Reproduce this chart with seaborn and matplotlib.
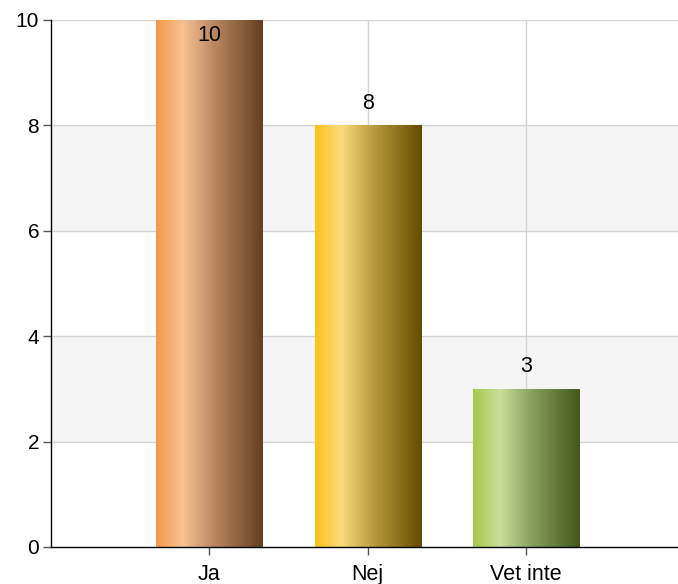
import matplotlib
matplotlib.use("Agg")
import matplotlib.pyplot as plt
import numpy as np
import pandas as pd
import seaborn as sns
from matplotlib.colors import LinearSegmentedColormap

categories = ["Ja", "Nej", "Vet inte"]
values = [10, 8, 3]
# gradient stops per bar: left, highlight, middle, right
bar_stops = [
    ["#f5984a", "#f8c292", "#b98660", "#653f1f"],
    ["#fcc21b", "#fbda7e", "#b99a3c", "#644c00"],
    ["#a6c84a", "#cadf99", "#88a05e", "#42581c"],
]

sns.set_style("white")
plt.rcParams['font.family'] = ['Liberation Sans', 'DejaVu Sans']
plt.rcParams['text.color'] = 'black'
plt.rcParams['xtick.color'] = 'black'
plt.rcParams['ytick.color'] = 'black'

df = pd.DataFrame({"svar": categories, "antal": values})

fig = plt.figure(figsize=(6.78, 5.84), dpi=100)
ax = fig.add_axes([0.0752, 0.0634, 0.9248, 0.9024])

sns.barplot(data=df, x="svar", y="antal", ax=ax, width=0.67, zorder=2)

grad = np.linspace(0, 1, 256).reshape(1, -1)
for patch, stops in zip(ax.containers[0], bar_stops):
    cmap = LinearSegmentedColormap.from_list(
        "g", list(zip([0, 0.25, 0.55, 1.0], stops)))
    x0, y0 = patch.get_x(), patch.get_y()
    w, h = patch.get_width(), patch.get_height()
    patch.set_facecolor("none")
    patch.set_edgecolor("none")
    im = ax.imshow(grad, cmap=cmap, aspect="auto", extent=[x0, x0 + w, y0, y0 + h],
                   zorder=2, interpolation="bilinear")
    im.set_clip_path(patch)

# alternating bands and grid
for lo in (2, 6):
    ax.axhspan(lo, lo + 2, color="#f5f5f5", zorder=0, lw=0)
for y in range(2, 11, 2):
    ax.axhline(y, color="#d3d3d3", lw=1, zorder=1)
for x in range(len(categories)):
    ax.axvline(x, color="#d3d3d3", lw=1, zorder=1)

for i, v in enumerate(values):
    if v >= 10:
        ax.text(i, v - 0.1, str(v), ha="center", va="top", fontsize=15.5, zorder=5)
    else:
        ax.text(i, v + 0.22, str(v), ha="center", va="bottom", fontsize=15.5, zorder=5)

ax.set_xlim(-1.0, 2.96)
ax.set_ylim(0, 10)
ax.set_yticks(range(0, 11, 2))
ax.set_xlabel("")
ax.set_ylabel("")
for s in ("top", "right"):
    ax.spines[s].set_visible(False)
for s in ("left", "bottom"):
    ax.spines[s].set_color("black")
    ax.spines[s].set_linewidth(1)
    ax.spines[s].set_zorder(6)
ax.tick_params(axis="both", length=5.5, width=1, color="#555555",
               bottom=True, left=True)
ax.tick_params(axis="x", labelsize=15.5, pad=7)
ax.tick_params(axis="y", labelsize=15, pad=3)

fig.savefig("out.png", dpi=100)
